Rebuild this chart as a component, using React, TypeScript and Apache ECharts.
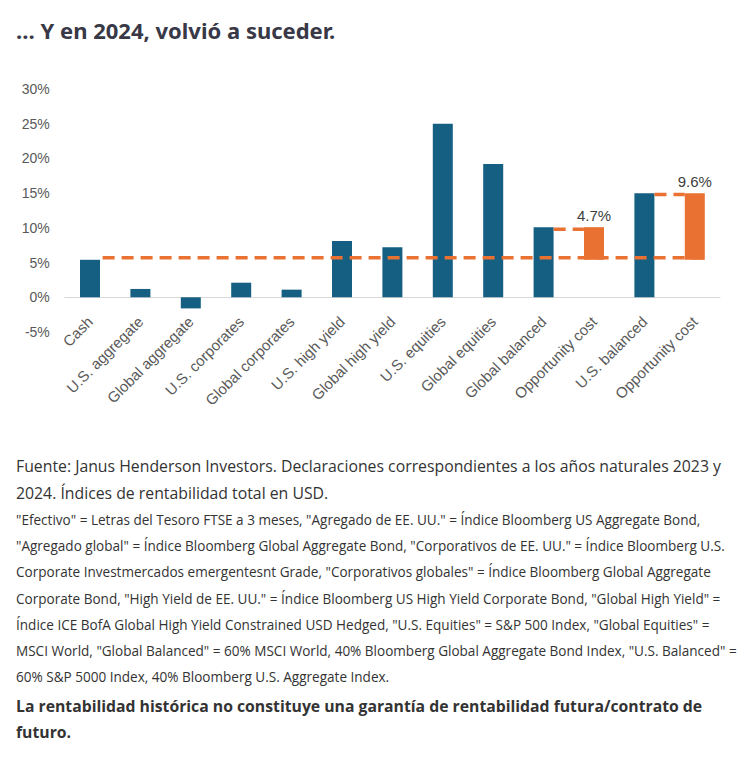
import React, { useEffect, useRef } from "react";
import * as echarts from "echarts";

const titleText = "… Y en 2024, volvió a suceder.";

const categories = [
  "Cash",
  "U.S. aggregate",
  "Global aggregate",
  "U.S. corporates",
  "Global corporates",
  "U.S. high yield",
  "Global high yield",
  "U.S. equities",
  "Global equities",
  "Global balanced",
  "Opportunity cost",
  "U.S. balanced",
  "Opportunity cost",
];

// 2024 total returns (%)
const returnValues: (number | string)[] = [5.4, 1.2, -1.6, 2.1, 1.1, 8.1, 7.2, 25.0, 19.2, 10.1, "-", 15.0, "-"];
// invisible base for the opportunity-cost bars (cash level)
const baseValues: (number | string)[] = ["-", "-", "-", "-", "-", "-", "-", "-", "-", "-", 5.4, "-", 5.4];
// opportunity cost (%)
const oppValues: (number | string)[] = ["-", "-", "-", "-", "-", "-", "-", "-", "-", "-", 4.7, "-", 9.6];

// dashed reference lines: [categoryPosition, level]
const cashLine: number[][] = [[0.25, 5.7], [12.2, 5.7]];
const globalBalancedLine: number[][] = [[9.2, 9.8], [9.8, 9.8]];
const usBalancedLine: number[][] = [[11.2, 14.8], [11.8, 14.8]];

const yTicks = { min: -5, max: 30, interval: 5 };

const sourceLines = [
  "Fuente: Janus Henderson Investors. Declaraciones correspondientes a los años naturales 2023 y",
  "2024. Índices de rentabilidad total en USD.",
];
const noteLines = [
  "\"Efectivo\" = Letras del Tesoro FTSE a 3 meses, \"Agregado de EE. UU.\" = Índice Bloomberg US Aggregate Bond,",
  "\"Agregado global\" = Índice Bloomberg Global Aggregate Bond, \"Corporativos de EE. UU.\" = Índice Bloomberg U.S.",
  "Corporate Investmercados emergentesnt Grade, \"Corporativos globales\" = Índice Bloomberg Global Aggregate",
  "Corporate Bond, \"High Yield de EE. UU.\" = Índice Bloomberg US High Yield Corporate Bond, \"Global High Yield\" =",
  "Índice ICE BofA Global High Yield Constrained USD Hedged, \"U.S. Equities\" = S&P 500 Index, \"Global Equities\" =",
  "MSCI World, \"Global Balanced\" = 60% MSCI World, 40% Bloomberg Global Aggregate Bond Index, \"U.S. Balanced\" =",
  "60% S&P 5000 Index, 40% Bloomberg U.S. Aggregate Index.",
];
const disclaimerLines = [
  "La rentabilidad histórica no constituye una garantía de rentabilidad futura/contrato de",
  "futuro.",
];

const BLUE = "#156082";
const ORANGE = "#E97132";
const AXIS_FONT = "'Liberation Sans', Arial, sans-serif";

export default function App() {
  const ref = useRef<HTMLDivElement>(null);

  useEffect(() => {
    document.body.style.margin = "0";
    if (!ref.current) return;
    const chart = echarts.init(ref.current, null, { renderer: "svg" });

    const textEl = (text: string, x: number, y: number, font: string, fill: string) => ({
      type: "text",
      x,
      y,
      silent: true,
      style: {
        text,
        font,
        fill,
        textAlign: "left",
        textVerticalAlign: "middle",
        align: "left",
        verticalAlign: "middle",
      },
    });

    const graphics: any[] = [];
    graphics.push(textEl(titleText, 16, 30, "bold 22px 'Noto Sans', sans-serif", "#383846"));
    sourceLines.forEach((t, i) =>
      graphics.push(textEl(t, 16, 466 + i * 27, "15.8px 'Open Sans', sans-serif", "#333333"))
    );
    noteLines.forEach((t, i) =>
      graphics.push(textEl(t, 16, 520 + i * 26.2, "13.55px 'Open Sans', sans-serif", "#333333"))
    );
    disclaimerLines.forEach((t, i) =>
      graphics.push(textEl(t, 16, 706 + i * 26, "bold 15.75px 'Open Sans', sans-serif", "#333333"))
    );

    const dashStyle = { color: ORANGE, width: 3.5, type: [12, 7] as any };

    const lineSeries = (data: number[][]) => ({
      type: "line",
      xAxisIndex: 1,
      yAxisIndex: 0,
      data,
      symbol: "none",
      silent: true,
      z: 5,
      lineStyle: dashStyle,
    });

    chart.setOption({
      animation: false,
      backgroundColor: "#ffffff",
      textStyle: { fontFamily: AXIS_FONT },
      grid: { left: 64.8, right: 32, top: 89, bottom: 428, containLabel: false },
      xAxis: [
        {
          type: "category",
          data: categories,
          axisLine: { onZero: true, lineStyle: { color: "#d9d9d9", width: 1 } },
          axisTick: { show: false },
          axisLabel: {
            interval: 0,
            rotate: 45,
            margin: -13,
            color: "#595959",
            fontSize: 15,
            fontFamily: AXIS_FONT,
          },
        },
        {
          type: "value",
          min: -0.5,
          max: 12.5,
          show: false,
        },
      ],
      yAxis: {
        type: "value",
        min: yTicks.min,
        max: yTicks.max,
        interval: yTicks.interval,
        axisLine: { show: false },
        axisTick: { show: false },
        splitLine: { show: false },
        axisLabel: {
          formatter: "{value}%",
          color: "#595959",
          fontSize: 14,
          margin: 15,
          fontFamily: AXIS_FONT,
        },
      },
      series: [
        {
          type: "bar",
          name: "base",
          stack: "total",
          data: baseValues,
          barWidth: 20,
          itemStyle: { color: "transparent" },
          silent: true,
        },
        {
          type: "bar",
          name: "returns",
          stack: "total",
          data: returnValues,
          barWidth: 20,
          itemStyle: { color: BLUE },
        },
        {
          type: "bar",
          name: "opportunity",
          stack: "total",
          data: oppValues,
          barWidth: 20,
          itemStyle: { color: ORANGE },
          label: {
            show: true,
            position: "top",
            distance: 4,
            formatter: "{c}%",
            color: "#404040",
            fontSize: 15,
            fontFamily: AXIS_FONT,
          },
        },
        lineSeries(cashLine),
        lineSeries(globalBalancedLine),
        lineSeries(usBalancedLine),
      ],
      graphic: graphics,
    });

    return () => chart.dispose();
  }, []);

  return <div ref={ref} style={{ width: 752, height: 760 }} />;
}
